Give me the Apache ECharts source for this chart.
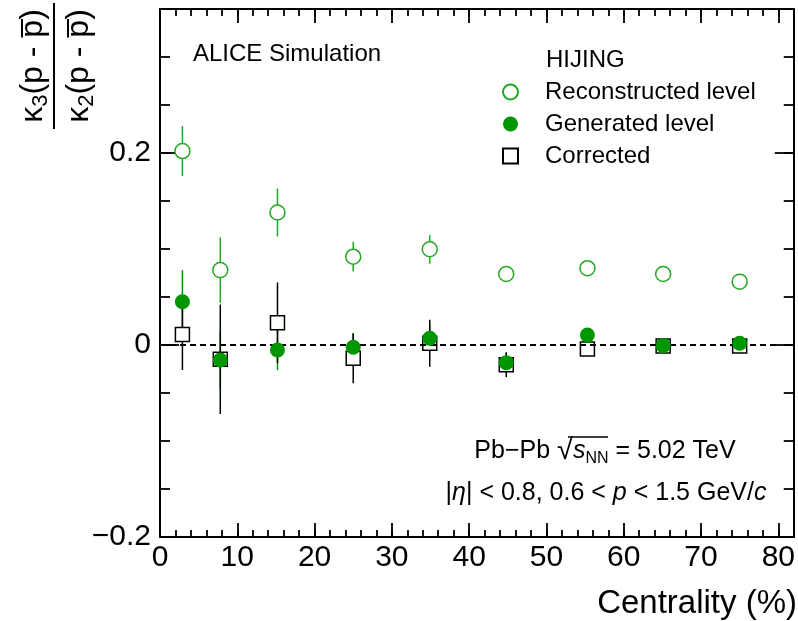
<!DOCTYPE html>
<html><head><meta charset="utf-8">
<script src="https://cdn.jsdelivr.net/npm/echarts@6/dist/echarts.min.js"></script>
<style>html,body{margin:0;padding:0;background:#fff}#c{width:798px;height:621px}</style>
</head><body><div id="c"></div>
<script>
// ---- data ----
const centrality = [2.9, 7.8, 15.2, 25, 34.9, 44.8, 55.3, 65.1, 75];
const recoVal = [0.202, 0.078, 0.138, 0.092, 0.0997, 0.074, 0.080, 0.074, 0.066];
const recoErr = [0.026, 0.034, 0.025, 0.0155, 0.015, 0.005, 0.005, 0.004, 0.004];
const genVal = [0.045, -0.0156, -0.0052, -0.0024, 0.007, -0.0184, 0.0104, -0.0007, 0.0018];
const genErr = [0.033, 0.030, 0.021, 0.015, 0.015, 0.010, 0.006, 0.005, 0.005];
const corrVal = [0.011, -0.0149, 0.0232, -0.0139, 0.0018, -0.0205, -0.0042, -0.001, -0.001];
const corrErr = [0.037, 0.057, 0.042, 0.026, 0.0245, 0.013, 0.005, 0.005, 0.005];
const seriesNames = ['Reconstructed level', 'Generated level', 'Corrected'];
const zeroLineRange = [0, 80];
const xRange = [0, 82];
const xMajorStep = 10, xMinorStep = 2, xLastLabel = 80;
const yRange = [-0.2, 0.35];
const yMajorStep = 0.2, yMinorStep = 0.05, yLastLabel = 0.2;

const FONT = '"Liberation Sans", Arial, Helvetica, sans-serif';
const GREEN_OPEN = '#22a822';
const GREEN_FILL = '#009600';
const TICK = '#000';

function xAx(position, step, len, labels, showLine) {
  return {
    type: 'value', position, min: xRange[0], max: xRange[1], interval: step,
    axisLine: { show: showLine, onZero: false, lineStyle: { color: '#000', width: 2 } },
    axisTick: { show: true, inside: true, length: len, lineStyle: { color: TICK, width: 1.8 } },
    axisLabel: labels ? { show: true, fontSize: 30, fontFamily: FONT, color: '#000', margin: 6,
      formatter: v => (v > xLastLabel + 1e-9 ? '' : String(Math.round(v))) } : { show: false },
    splitLine: { show: false }
  };
}
function yAx(position, step, len, labels, showLine) {
  return {
    type: 'value', position, min: yRange[0], max: yRange[1], interval: step,
    axisLine: { show: showLine, onZero: false, lineStyle: { color: '#000', width: 2 } },
    axisTick: { show: true, inside: true, length: len, lineStyle: { color: TICK, width: 1.8 } },
    axisLabel: labels ? { show: true, fontSize: 30, fontFamily: FONT, color: '#000', margin: 9,
      formatter: v => (v > yLastLabel + 1e-9 ? '' : (v < -1e-9 ? '\u2212' : '') + String(Math.abs(Math.round(v * 100) / 100))) } : { show: false },
    splitLine: { show: false }
  };
}
function errData(vals, errs) {
  return centrality.map((c, i) => [c, vals[i] - errs[i], vals[i] + errs[i]]);
}
function errSeries(vals, errs, color, z, extra) {
  return Object.assign({
    type: 'custom', xAxisIndex: 0, yAxisIndex: 0, z,
    data: errData(vals, errs),
    encode: { x: 0, y: [1, 2] },
    renderItem: (params, api) => {
      const p1 = api.coord([api.value(0), api.value(1)]);
      const p2 = api.coord([api.value(0), api.value(2)]);
      return { type: 'line', shape: { x1: p1[0], y1: p1[1], x2: p2[0], y2: p2[1] }, style: { stroke: color, lineWidth: 1.5 } };
    }
  }, extra || {});
}
function pts(vals) { return centrality.map((c, i) => [c, vals[i]]); }

const chart = echarts.init(document.getElementById('c'), null, { renderer: 'canvas' });
chart.setOption({
  animation: false,
  backgroundColor: '#fff',
  grid: { left: 160, right: 3, top: 9, bottom: 84, containLabel: false },
  xAxis: [
    xAx('bottom', xMajorStep, 14, true, true),
    xAx('bottom', xMinorStep, 7, false, false),
    xAx('top', xMajorStep, 14, false, true),
    xAx('top', xMinorStep, 7, false, false)
  ],
  yAxis: [
    yAx('left', yMajorStep, 19, true, true),
    yAx('left', yMinorStep, 10, false, false),
    yAx('right', yMajorStep, 19, false, true),
    yAx('right', yMinorStep, 10, false, false)
  ],
  legend: {
    orient: 'vertical', left: 502, top: 79, padding: 0,
    itemWidth: 15, itemHeight: 15, itemGap: 6,
    data: seriesNames,
    textStyle: { fontSize: 24, fontFamily: FONT, color: '#000', lineHeight: 26, padding: [0, 0, 0, 22] }
  },
  series: [
    errSeries(recoVal, recoErr, GREEN_OPEN, 2, {
      markLine: {
        silent: true, symbol: 'none', label: { show: false },
        lineStyle: { type: [6, 4], color: '#000', width: 2.2 },
        data: [[{ coord: [zeroLineRange[0], 0] }, { coord: [zeroLineRange[1], 0] }]]
      }
    }),
    errSeries(genVal, genErr, GREEN_FILL, 2),
    errSeries(corrVal, corrErr, '#000', 2),
    { name: seriesNames[0], type: 'scatter', z: 4, symbol: 'circle', symbolSize: 15, data: pts(recoVal),
      itemStyle: { color: '#fff', borderColor: GREEN_OPEN, borderWidth: 1.5, opacity: 1 } },
    { name: seriesNames[2], type: 'scatter', z: 4, symbol: 'rect', symbolSize: 14, data: pts(corrVal),
      itemStyle: { color: '#fff', borderColor: '#000', borderWidth: 1.5, opacity: 1 } },
    { name: seriesNames[1], type: 'scatter', z: 5, symbol: 'circle', symbolSize: 15, data: pts(genVal),
      itemStyle: { color: GREEN_FILL, opacity: 1 } }
  ],
  graphic: [
    { type: 'text', x: 193, y: 54, style: { text: 'ALICE Simulation', font: '24px ' + FONT, fill: '#000', verticalAlign: 'middle' } },
    { type: 'text', x: 546, y: 60, style: { text: 'HIJING', font: '24px ' + FONT, fill: '#000', verticalAlign: 'middle' } },
    { type: 'text', x: 605, y: 451, style: {
        text: '{t|Pb\u2212Pb }{r|\u221A}{i|s}{n|NN}{t| = 5.02 TeV}', align: 'center', verticalAlign: 'middle',
        rich: {
          t: { fontSize: 25, fontFamily: FONT, lineHeight: 32 },
          r: { fontSize: 29, fontFamily: FONT, lineHeight: 32 },
          i: { fontSize: 25, fontFamily: FONT, fontStyle: 'italic', lineHeight: 32 },
          n: { fontSize: 16, fontFamily: FONT, verticalAlign: 'bottom', lineHeight: 20 }
        } } },
    { type: 'line', shape: { x1: 568, y1: 437, x2: 608, y2: 437 }, style: { stroke: '#000', lineWidth: 1.3 } },
    { type: 'text', x: 606, y: 493, style: {
        text: '{t||}{i|\u03B7}{t|| < 0.8, 0.6 < }{i|p}{t| < 1.5 GeV/}{i|c}', align: 'center', verticalAlign: 'middle',
        rich: {
          t: { fontSize: 25, fontFamily: FONT },
          i: { fontSize: 25, fontFamily: FONT, fontStyle: 'italic' }
        } } },
    { type: 'text', x: 797, y: 604, style: { text: 'Centrality (%)', font: '33px ' + FONT, fill: '#000', align: 'right', verticalAlign: 'middle' } },
    { type: 'group', x: 54, y: 66, rotation: Math.PI / 2, children: [
      { type: 'line', shape: { x1: -63, y1: 0, x2: 63, y2: 0 }, style: { stroke: '#000', lineWidth: 2 } },
      { type: 'text', x: 0, y: -2, style: {
          text: '{k|\u03BA}{s|3}{p|(p - p\u0305)}', align: 'center', verticalAlign: 'bottom',
          rich: {
            k: { fontSize: 32, fontFamily: FONT, lineHeight: 38 },
            s: { fontSize: 22, fontFamily: FONT, verticalAlign: 'bottom', lineHeight: 22 },
            p: { fontSize: 32, fontFamily: FONT, lineHeight: 38 }
          } } },
      { type: 'text', x: 0, y: 6, style: {
          text: '{k|\u03BA}{s|2}{p|(p - p\u0305)}', align: 'center', verticalAlign: 'top',
          rich: {
            k: { fontSize: 32, fontFamily: FONT, lineHeight: 38 },
            s: { fontSize: 22, fontFamily: FONT, verticalAlign: 'bottom', lineHeight: 22 },
            p: { fontSize: 32, fontFamily: FONT, lineHeight: 38 }
          } } }
    ] }
  ]
});
</script></body></html>
